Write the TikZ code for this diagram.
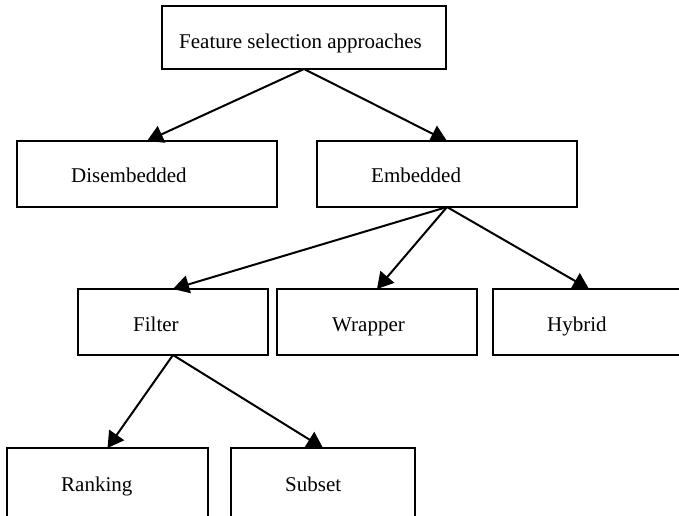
\documentclass[tikz,border=0pt]{standalone}
\usepackage{fontspec}
\setmainfont{Liberation Serif}
\usetikzlibrary{arrows.meta}
\begin{document}
\begin{tikzpicture}[x=1pt,y=-1pt,
  box/.style={draw, line width=2pt, fill=white, rectangle, inner sep=0pt, outer sep=0pt},
  lbl/.style={anchor=base west, inner sep=0pt, font=\fontsize{21}{25}\selectfont},
  link/.style={line width=2pt, -{Triangle[length=16pt,width=18pt]}}]
\useasboundingbox (0,0) rectangle (679,515);
\clip (0,0) rectangle (679,515);

% boxes
\node[box, minimum width=284pt, minimum height=63pt] (root) at (304,37.5) {};
\node[box, minimum width=260pt, minimum height=66pt] (dis)  at (147,174) {};
\node[box, minimum width=260pt, minimum height=66pt] (emb)  at (447,174) {};
\node[box, minimum width=190pt, minimum height=66pt] (filt) at (173,322) {};
\node[box, minimum width=200pt, minimum height=66pt] (wrap) at (377,322) {};
\node[box, minimum width=192pt, minimum height=66pt] (hyb)  at (589,322) {};
\node[box, minimum width=201pt, minimum height=72pt] (rank) at (107.5,484) {};
\node[box, minimum width=184pt, minimum height=72pt] (subs) at (323,484) {};

% labels
\node[lbl] (rootl) at (179,48)  {Feature selection approaches};
\node[lbl] (disl)  at (71,182)  {Disembedded};
\node[lbl] (embl)  at (371,182) {Embedded};
\node[lbl] (filtl) at (133,331) {Filter};
\node[lbl] (wrapl) at (332,331) {Wrapper};
\node[lbl] (hybl)  at (547,331) {Hybrid};
\node[lbl] (rankl) at (61,491)  {Ranking};
\node[lbl] (subsl) at (285,491) {Subset};

% connectors
\draw[link] (root.south) -- (dis.north);
\draw[link] (root.south) -- (emb.north);
\draw[link] (emb.south) -- (filt.north);
\draw[link] (emb.south) -- (wrap.north);
\draw[link] (emb.south) -- (hyb.north);
\draw[link] (filt.south) -- (rank.north);
\draw[link] (filt.south) -- (subs.north);
\end{tikzpicture}
\end{document}
